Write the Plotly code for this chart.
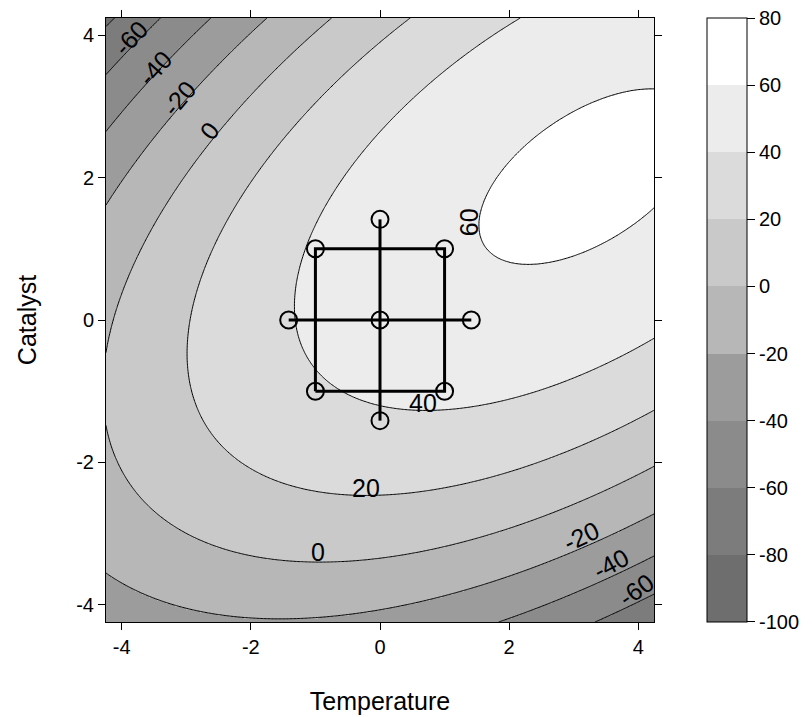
import numpy as np
import plotly.graph_objects as go

# Central composite design runs (coded units) and observed yield
temperature = [-1, 1, 1, -1, -1.414, 1.414, 0, 0, 0]
catalyst = [-1, -1, 1, 1, 0, 0, -1.414, 1.414, 0]
yield_obs = [37.75, 43.67, 57.61, 41.76, 39.01, 54.40, 37.34, 50.04, 49.92]

levels = [-100, -80, -60, -40, -20, 0, 20, 40, 60, 80]
level_text = ["-100", "-80", "-60", "-40", "-20", "0", "20", "40", "60", "80"]
axis_ticks = [-4, -2, 0, 2, 4]
axis_text = ["-4", "-2", "0", "2", "4"]
grays = ['#6e6e6e', '#7c7c7c', '#8b8b8b', '#9c9c9c', '#b7b7b7',
         '#c9c9c9', '#dbdbdb', '#ececec', '#ffffff']


def basis(t, c):
    t = np.asarray(t, float)
    c = np.asarray(c, float)
    return np.column_stack([np.ones_like(t), t, c, t * t, c * c, t * c])


# second-order response-surface fit (as rsm does)
coef, *_ = np.linalg.lstsq(basis(temperature, catalyst), np.asarray(yield_obs, float), rcond=None)

lim = 4.243
g = np.linspace(-lim, lim, 401)
TT, CC = np.meshgrid(g, g)
Z = np.round((basis(TT.ravel(), CC.ravel()) @ coef).reshape(TT.shape), 2)

cs = []
for i, col in enumerate(grays):
    cs.append([i / 9, col])
    cs.append([(i + 1) / 9, col])

eps = 0.05
font = "Liberation Sans, Arial, Helvetica, sans-serif"
fig = go.Figure()
fig.add_trace(go.Heatmap(
    x=g, y=g, z=Z, zmin=levels[0] - eps, zmax=levels[-1] + eps, colorscale=cs,
    hoverinfo='skip',
    colorbar=dict(
        x=(707 - 106) / 548, xanchor='left', xpad=0, ypad=0,
        y=0.5, yanchor='middle', len=1, lenmode='fraction',
        thickness=40, thicknessmode='pixels',
        outlinewidth=1, outlinecolor='black',
        tickmode='array', tickvals=levels, ticktext=level_text,
        ticks='outside', ticklen=8, tickwidth=1, ticklabeloverflow='allow',
        tickcolor='black', tickfont=dict(size=20, color='black', family=font)
    )))
fig.add_trace(go.Contour(
    x=g, y=g, z=Z, showscale=False, hoverinfo='skip',
    contours=dict(start=levels[0], end=levels[-1], size=20, coloring='none'),
    line=dict(color='black', width=1)))

# design lines: factorial square and axial cross
sq_T = temperature[:4] + [temperature[0]]
sq_C = catalyst[:4] + [catalyst[0]]
cr_T = [temperature[4], temperature[5], None, temperature[6], temperature[7]]
cr_C = [catalyst[4], catalyst[5], None, catalyst[6], catalyst[7]]
fig.add_trace(go.Scatter(x=sq_T, y=sq_C, mode='lines',
                         line=dict(color='black', width=3), hoverinfo='skip'))
fig.add_trace(go.Scatter(x=cr_T, y=cr_C, mode='lines',
                         line=dict(color='black', width=3), hoverinfo='skip'))
fig.add_trace(go.Scatter(x=temperature, y=catalyst, mode='markers',
                         marker=dict(symbol='circle-open', size=17, color='black',
                                     line=dict(width=2, color='black')),
                         hoverinfo='skip'))

labels = [("-60", -3.86, 3.96, -47), ("-40", -3.48, 3.54, -48), ("-20", -3.11, 3.12, -50),
          ("0", -2.64, 2.65, -52), ("60", 1.39, 1.37, -90), ("40", 0.66, -1.16, 0),
          ("20", -0.22, -2.36, 0), ("0", -0.96, -3.26, 0), ("-20", 3.12, -3.03, -25),
          ("-40", 3.57, -3.43, -28), ("-60", 3.96, -3.79, -35)]
for txt, lx, ly, ang in labels:
    fig.add_annotation(x=lx, y=ly, text=txt, showarrow=False, textangle=ang,
                       font=dict(size=25, color='black', family=font))

axis_common = dict(range=[-lim, lim], tickmode='array', tickvals=axis_ticks, ticktext=axis_text,
                   ticks='outside', ticklen=7,
                   tickwidth=1, tickcolor='black', showline=True, linecolor='black',
                   linewidth=1, mirror='ticks', showgrid=False, zeroline=False,
                   tickfont=dict(size=20, color='black', family=font))
fig.update_layout(
    width=812, height=717, margin=dict(l=98, r=166, t=10, b=102.6, autoexpand=False),
    paper_bgcolor='white', plot_bgcolor='white', showlegend=False,
    xaxis=dict(**axis_common, title=dict(text="Temperature", standoff=35,
                                         font=dict(size=25, color='black', family=font))),
    yaxis=dict(**axis_common, title=dict(text="Catalyst", standoff=32,
                                         font=dict(size=25, color='black', family=font))),
)
fig.write_html("out.html")
